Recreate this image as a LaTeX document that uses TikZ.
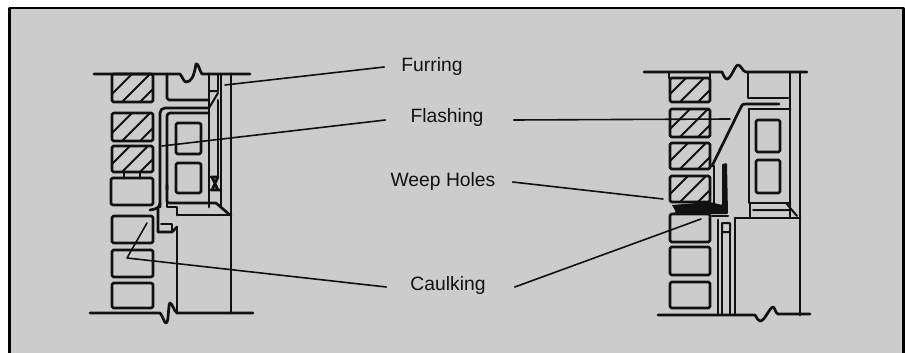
\documentclass[tikz,border=0pt]{standalone}
\usepackage{fontspec}
\setmainfont{Liberation Sans}
\newcommand{\hbrick}[4]{%
  \begin{scope}
    \clip (#1,#2) rectangle (#3,#4);
    \foreach \d in {-8,10,28}
      \draw[thinl] ({#1+\d},#4) -- ++({#4-#2},{-(#4-#2)});
  \end{scope}
  \draw[wall,rounded corners=1.5pt] (#1,#2) rectangle (#3,#4);
}
\newcommand{\pbrick}[4]{\draw[wall,rounded corners=1.5pt] (#1,#2) rectangle (#3,#4);}
\tikzset{
  wall/.style={draw=ink,line width=2.7pt},
  thinl/.style={draw=ink,line width=2pt},
  lead/.style={draw=ink,line width=1.6pt},
  lbl/.style={font=\fontsize{19.3}{22}\selectfont,text=ink,inner sep=0pt}
}
\definecolor{ink}{HTML}{111111}
\definecolor{panel}{HTML}{CCCCCC}
\begin{document}
\begin{tikzpicture}[x=1pt,y=-1pt,line cap=round,line join=round]
\useasboundingbox (0,0) rectangle (905,353);
\fill[white] (0,0) rectangle (905,353);
\fill[panel] (9,8) rectangle (903.5,353);
\draw[black,line width=2.6pt,line cap=butt] (9.7,353) -- (9.7,8.2) -- (903.4,8.2) -- (903.4,353);

% ---------- left detail ----------
\draw[wall] (94,74) -- (180,74) .. controls (183,78) and (184,82) .. (186,82)
  .. controls (191,82) and (194,77) .. (196,64) .. controls (198,62) and (200,72) .. (202,74) -- (250,74);
\draw[wall] (90,313) -- (160,313) .. controls (163,316) and (164,323) .. (166,323)
  .. controls (169,323) and (168,304) .. (170,303) .. controls (172,303) and (174,311) .. (177,313) -- (253,313);
\hbrick{112}{74}{153}{102}
\hbrick{112}{113}{153}{141}
\hbrick{112}{146}{153}{172}
\pbrick{111}{178}{153}{205}
\pbrick{112}{216}{153}{243}
\pbrick{112}{250}{153}{277}
\pbrick{112}{283}{153}{308}
\draw[wall] (124,172) -- (124,178) (140,172) -- (140,178);
% wall lines and frame
\draw[wall] (231,74) -- (231,313);
\draw[wall] (177,227) -- (177,313);
\draw[wall] (167,74) -- (167,98) -- (169,100) -- (208,100);
\draw[wall] (209,74) -- (209,207);
\draw[thinl] (221,74) -- (221,190);
\draw[thinl] (218,74) -- (218,90) (218,100) -- (218,177);
\draw[thinl] (209,91) -- (218,91) (209,108) -- (218,93);
\draw[wall,rounded corners=5pt] (160,207) -- (160,108) -- (209,108);
\draw[wall,rounded corners=3pt] (167,190) -- (167,113) -- (209,113);
\draw[wall,rounded corners=2pt] (167,185) -- (167,203) -- (216,203);
\draw[wall,rounded corners=1.5pt] (176,123) rectangle (201,154);
\draw[wall,rounded corners=1.5pt] (176,163) rectangle (201,193);
\draw[wall] (211,177) -- (218,177) (211,190) -- (221,190) (212,177) -- (218,190) (218,177) -- (212,190);
\draw[wall] (216,203) -- (230,215);
\draw[wall] (221,190) -- (221,207);
\draw[wall] (178,215) -- (231,215);
\draw[wall] (167,203) -- (167,207) -- (177,207) -- (177,215);
\draw[wall] (158,207) -- (158,232) -- (172,232) -- (177,227);
\draw[thinl] (161,224) -- (172,224) -- (172,231);
\draw[wall] (160,203) .. controls (160,208) and (156,209) .. (150,210);

% ---------- right detail ----------
\draw[wall] (644,72) -- (722,72) .. controls (724,76) and (725,79) .. (727,79)
  .. controls (731,79) and (735,65) .. (738,65) .. controls (741,65) and (742,71) .. (746,72) -- (807,72);
\draw[wall] (658,315) -- (755,315) .. controls (757,318) and (758,321) .. (760,321)
  .. controls (765,321) and (769,308) .. (773,307) .. controls (775,307) and (775,313) .. (778,314) -- (810,314);
\draw[wall] (669,72) -- (669,78) (710,72) -- (710,78);
\hbrick{670}{78}{710}{102}
\hbrick{670}{109}{710}{137}
\hbrick{670}{143}{710}{169}
\hbrick{670}{176}{710}{202}
\pbrick{670}{214}{710}{242}
\pbrick{670}{247}{710}{275}
\pbrick{670}{282}{710}{308}
\draw[wall] (748,72) -- (748,98) -- (788,98);
\draw[wall] (790,72) -- (790,218);
\draw[wall] (800,72) -- (800,315);
\draw[wall] (712,166) -- (741,107) .. controls (742,104) and (743,104) .. (746,104) -- (779,104);
\draw[wall] (749,109) -- (790,109);
\draw[wall] (749,109) -- (749,203) -- (790,203);
\draw[wall,rounded corners=1.5pt] (756,120) rectangle (780,152);
\draw[wall,rounded corners=1.5pt] (756,160) rectangle (780,193);
\draw[thinl] (753,210) -- (790,210) (786,203) -- (797,216);
\draw[wall] (750,203) -- (750,218);
\draw[wall] (735,218) -- (800,218);
% flashing and weep, solid black
\fill[ink,rounded corners=1pt] (722,164) -- (727,163) -- (728,214) -- (673,214) -- (680,207) -- (722,205) -- cycle;
\fill[ink] (672,205) -- (710,202) -- (722,205) -- (722,210) -- (676,212) -- cycle;
\draw[wall] (714,166) -- (714,204);
\draw[wall] (712,216) -- (728,216);
\draw[wall] (718,220) -- (718,315);
\draw[thinl] (722,223) -- (722,315) (730,223) -- (730,315);
\draw[wall] (735,218) -- (735,315);
\draw[thinl,rounded corners=1pt] (722,223) rectangle (730,232);

% ---------- labels and leaders ----------
\node[lbl,anchor=center] (furring) at (432,67) {Furring};
\node[lbl,anchor=center] (flashing) at (447,118) {Flashing};
\node[lbl,anchor=center] (weep) at (443,182) {Weep Holes};
\node[lbl,anchor=center] (caulking) at (448,286) {Caulking};
\coordinate (furringEnd) at (225,85);
\coordinate (flashLeft) at (162,146);
\coordinate (flashRight) at (730,119);
\coordinate (weepEnd) at (663,199);
\coordinate (caulkKnee) at (127,258);
\coordinate (caulkTip) at (147,223);
\coordinate (caulkRight) at (701,219);
\draw[lead] ([xshift=-17pt]furring.west) -- (furringEnd);
\draw[lead] ([xshift=-25pt,yshift=-2pt]flashing.west) -- (flashLeft);
\draw[lead] ([xshift=30pt,yshift=-2pt]flashing.east) -- (flashRight);
\draw[lead] ([xshift=17pt]weep.east) -- (weepEnd);
\draw[lead] ([xshift=-24pt,yshift=-1pt]caulking.west) -- (caulkKnee) -- (caulkTip);
\draw[lead] ([xshift=29pt,yshift=-1pt]caulking.east) -- (caulkRight);
\end{tikzpicture}
\end{document}
